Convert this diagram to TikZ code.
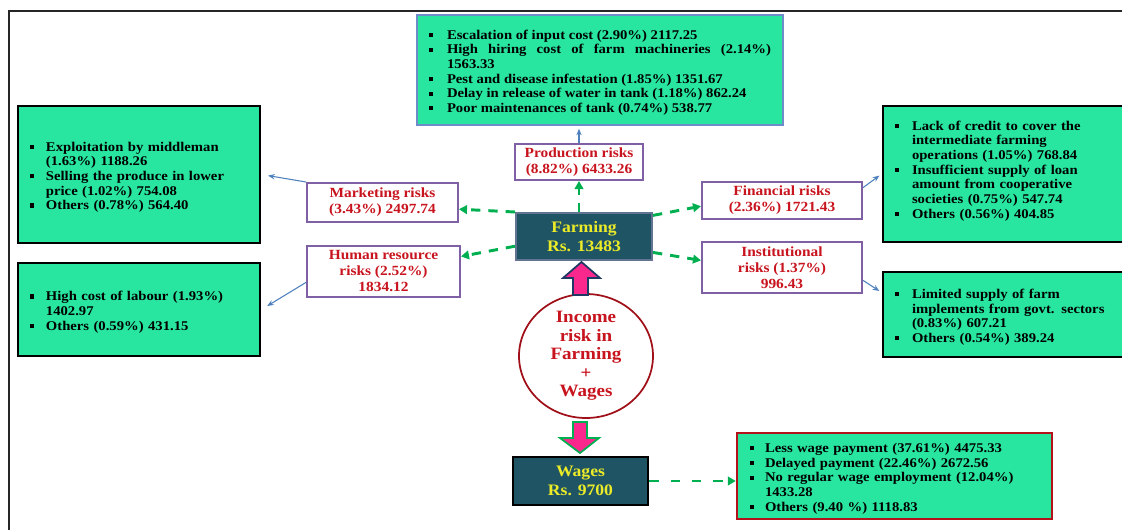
\documentclass[tikz,border=0pt]{standalone}
\usepackage{fontspec}
\setmainfont{Liberation Serif}[FakeStretch=1.1]
\usetikzlibrary{shapes.geometric,arrows.meta,positioning}
\definecolor{irgreen}{RGB}{40,230,160}
\definecolor{irteal}{RGB}{31,84,100}
\definecolor{iryellow}{RGB}{235,235,40}
\definecolor{irred}{RGB}{200,20,30}
\definecolor{irpurple}{RGB}{128,96,165}
\definecolor{irblue}{RGB}{79,129,189}
\definecolor{irdash}{RGB}{0,176,80}
\definecolor{irpink}{RGB}{250,40,140}
\definecolor{irnavy}{RGB}{31,56,100}
\definecolor{irframe}{RGB}{110,140,200}
\newenvironment{irbullets}[1]{%
  \setlength\linewidth{\hsize}%
  \begin{list}{\rule[1.6pt]{3.2pt}{3.2pt}}{%
    \setlength\leftmargin{#1}\setlength\labelwidth{3.2pt}%
    \setlength\labelsep{\dimexpr#1-3.2pt\relax}\setlength\itemindent{0pt}%
    \setlength\itemsep{0pt}\setlength\parsep{0pt}%
    \setlength\topsep{0pt}\setlength\partopsep{0pt}}}{\end{list}}
\tikzset{
  irlist/.style={
    rectangle, draw=black, line width=2.2pt, fill=irgreen,
    font=\fontsize{10}{11}\selectfont\bfseries, align=left,
    inner xsep=9pt, inner ysep=2pt
  },
  irrisk/.style={
    rectangle, draw=irpurple, line width=1.5pt, fill=white, text=irred,
    font=\fontsize{10.5}{12}\selectfont\bfseries, align=center, inner sep=1pt
  },
  irhub/.style={
    rectangle, draw=irnavy!70, line width=1.5pt, fill=irteal, text=iryellow,
    font=\fontsize{12}{14.5}\selectfont\bfseries, align=center, inner sep=1pt
  },
  irflow/.style={-{Triangle[length=6pt,width=6.5pt]}, draw=irdash, line width=2.2pt, dash pattern=on 7pt off 6pt},
  irlink/.style={-{Stealth[length=5pt,width=4pt]}, draw=irblue, line width=0.8pt, shorten >=2pt},
}
\begin{document}
\begin{tikzpicture}[x=0.75pt, y=-0.75pt]
  \useasboundingbox (0,0) rectangle (1122,529);
  \draw[line width=2.2pt, draw=black!85] (1130,11) -- (9,11) -- (9,535);
  % bullet boxes
  \node (prodlist) [irlist, draw=irframe, line width=1.5pt, align=justify, minimum width=274.5pt, minimum height=82.5pt, text width=256.5pt] at (600,70) {%
    \begin{irbullets}{13.5pt}
    \item Escalation of input cost (2.90\%) 2117.25
    \item High hiring cost of farm machineries (2.14\%)\linebreak 1563.33
    \item Pest and disease infestation (1.85\%) 1351.67
    \item Delay in release of water in tank (1.18\%) 862.24
    \item Poor maintenances of tank (0.74\%) 538.77
    \end{irbullets}};
  \node (marklist) [irlist, minimum width=181.5pt, minimum height=102.75pt, text width=163.5pt] at (139,174.5) {%
    \begin{irbullets}{12pt}
    \item Exploitation by middleman\newline (1.63\%) 1188.26
    \item Selling the produce in lower\newline price (1.02\%) 754.08
    \item Others (0.78\%) 564.40
    \end{irbullets}};
  \node (humlist) [irlist, minimum width=181.5pt, minimum height=69.75pt, text width=163.5pt] at (139,309.5) {%
    \begin{irbullets}{12pt}
    \item High cost of labour (1.93\%)\newline 1402.97
    \item Others (0.59\%) 431.15
    \end{irbullets}};
  \node (finlist) [irlist, minimum width=185.25pt, minimum height=102pt, text width=167.25pt] at (1006.5,174) {%
    \begin{irbullets}{12.75pt}
    \item Lack of credit to cover the\newline intermediate farming\newline operations (1.05\%) 768.84
    \item Insufficient supply of loan\newline amount from cooperative\newline societies (0.75\%) 547.74
    \item Others (0.56\%) 404.85
    \end{irbullets}\par\noindent\rule{0pt}{8pt}};
  \node (instlist) [irlist, minimum width=185.25pt, minimum height=63.75pt, text width=167.25pt] at (1006.5,314.5) {%
    \begin{irbullets}{12.75pt}
    \item Limited supply of farm\newline implements from govt. sectors\newline (0.83\%) 607.21
    \item Others (0.54\%) 389.24
    \end{irbullets}};
  \node (wagelist) [irlist, draw=irred!90!black, line width=1.8pt, inner xsep=9.75pt, minimum width=236.25pt, minimum height=64.5pt, text width=216.75pt] at (894.5,476) {%
    \begin{irbullets}{11.25pt}
    \item Less wage payment (37.61\%) 4475.33
    \item Delayed payment (22.46\%) 2672.56
    \item No regular wage employment (12.04\%)\newline 1433.28
    \item Others (9.40 \%) 1118.83
    \end{irbullets}};
  % risk boxes
  \node (prod) [irrisk, minimum width=96pt, minimum height=27pt] at (579,162) {Production risks\\(8.82\%) 6433.26};
  \node (mark) [irrisk, minimum width=113.25pt, minimum height=29.25pt] at (382.5,202.5) {Marketing risks\\(3.43\%) 2497.74};
  \node (hum) [irrisk, minimum width=114.75pt, minimum height=38.25pt] at (383.5,271.5) {Human resource\\risks (2.52\%)\\1834.12};
  \node (fin) [irrisk, minimum width=120pt, minimum height=27.75pt] at (782,200.5) {Financial risks\\(2.36\%) 1721.43};
  \node (inst) [irrisk, minimum width=120pt, minimum height=38.25pt] at (782,267.5) {Institutional\\risks (1.37\%)\\996.43};
  % centre
  \node (farm) [irhub, minimum width=102pt, minimum height=35.25pt] at (584,236.5) {Farming\\Rs. 13483};
  \node (wagebox) [irhub, draw=black, line width=2pt, minimum width=101.25pt, minimum height=36pt] at (580.5,481) {Wages\\Rs. 9700};
  \node (income) [ellipse, draw=irred!80!black, line width=1.3pt, fill=white, text=irred, font=\fontsize{13}{13.9}\selectfont\bfseries, align=center, inner xsep=0pt, inner ysep=-3pt, minimum width=100.5pt, minimum height=93pt] at (586,356) {Income\\risk in\\Farming\\+\\Wages};
  \filldraw[fill=irpink, draw=irnavy, line width=1.3pt] (573,295) -- (573,278) -- (563,278) -- (581.5,262) -- (600,278) -- (588,278) -- (588,295) -- cycle;
  \filldraw[fill=irpink, draw=irdash, line width=1.3pt] (573,422) -- (587,422) -- (587,438) -- (599,438) -- (580,453) -- (560,438) -- (573,438) -- cycle;
  % connectors
  \draw[irflow] (prod.south |- farm.north) -- (prod.south);
  \draw[irflow] (farm.north west) -- (mark.-5);
  \draw[irflow] (farm.188) -- (hum.11);
  \draw[irflow] (farm.17) -- (fin.184);
  \draw[irflow] (farm.-13) -- (inst.175);
  \draw[irflow, dash pattern=on 7pt off 9pt] (wagebox.east) -- (wagebox.east -| wagelist.west);
  \draw[irlink] (prod.north) -- (prod.north |- prodlist.south);
  \draw[irlink, shorten >=5pt] (mark.north west) -- (marklist.east);
  \draw[irlink, shorten >=5pt] (hum.188) -- (humlist.east);
  \draw[irlink] (fin.9) -- (finlist.west);
  \draw[irlink] (inst.-9) -- (instlist.170);
\end{tikzpicture}
\end{document}
